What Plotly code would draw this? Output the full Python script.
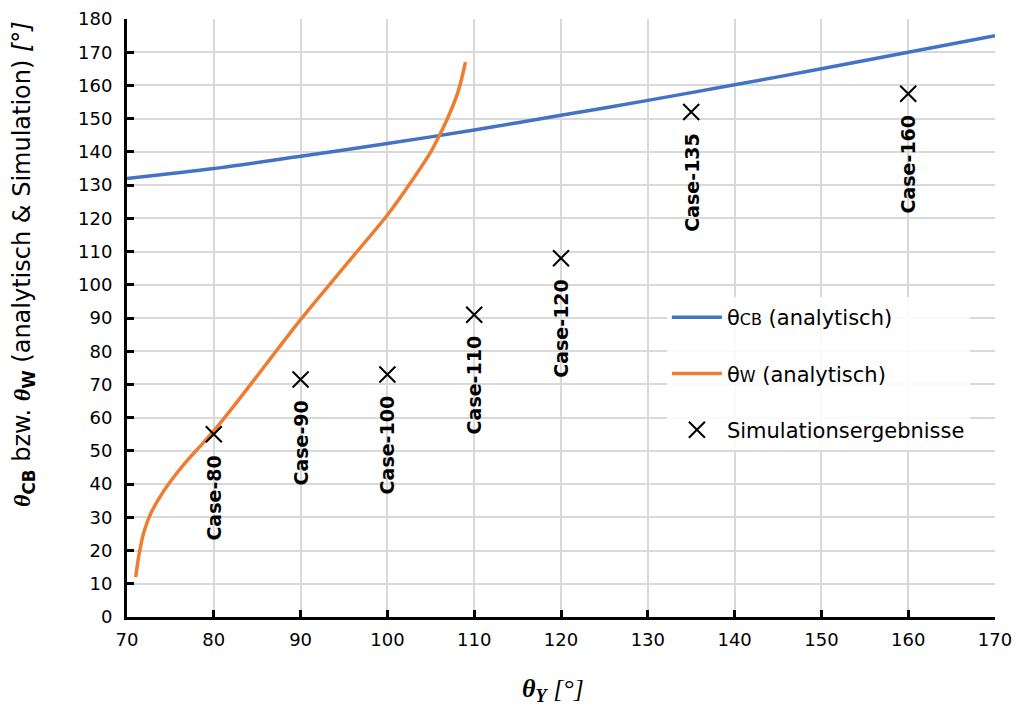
import plotly.graph_objects as go

# Blue analytic curve theta_CB
cb_x = [70, 80, 90, 100, 110, 120, 130, 140, 150, 160, 170]
cb_y = [132, 135, 138.7, 142.5, 146.6, 151, 155.5, 160.2, 165, 170, 175]

# Orange analytic curve theta_W
w_x = [71, 71.4, 72, 72.8, 74, 75.5, 77, 78.5, 80, 83, 86, 90, 95, 100, 103, 105, 106, 107, 108, 108.5, 109]
w_y = [12, 19, 26, 31.5, 37, 42.5, 47.3, 51.6, 56, 65.8, 76, 89.5, 105.3, 121, 132, 140, 145, 150.5, 157, 161.5, 167]

# Simulation results
sim_x = [80, 90, 100, 110, 120, 135, 160]
sim_y = [55, 71.5, 73, 91, 108, 152, 157.5]
sim_labels = ["Case-80", "Case-90", "Case-100", "Case-110", "Case-120", "Case-135", "Case-160"]

FONT = "DejaVu Sans, Arial, sans-serif"
SERIF = "Liberation Serif, DejaVu Serif, serif"

fig = go.Figure()
fig.add_trace(go.Scatter(
    x=cb_x, y=cb_y, mode="lines", line=dict(color="#4472C4", width=3.5, shape="spline", smoothing=0.8),
    name="θ<span style='font-size:16px'>CB</span> (analytisch)", legendgroup="a"))
fig.add_trace(go.Scatter(
    x=w_x, y=w_y, mode="lines", line=dict(color="#ED7D31", width=3.5, shape="spline", smoothing=0.7),
    name="θ<span style='font-size:16px'>W</span> (analytisch)", legendgroup="b"))
fig.add_trace(go.Scatter(
    x=sim_x, y=sim_y, mode="markers",
    marker=dict(symbol="x-thin-open", size=16, color="black", line=dict(color="black", width=2)),
    name="Simulationsergebnisse", legendgroup="c"))

for xv, yv, t in zip(sim_x, sim_y, sim_labels):
    fig.add_annotation(x=xv, y=yv, text="<b>" + t + "</b>", textangle=-90, showarrow=False,
                       xanchor="center", yanchor="top", yshift=-19,
                       font=dict(family=FONT, size=19, color="black"))

# y-axis title (placed as rotated annotation like the reference)
fig.add_annotation(
    xref="paper", yref="paper", x=-0.12, y=0.59, xanchor="center", yanchor="middle",
    textangle=-90, showarrow=False,
    text="<span style='font-family:" + SERIF + "'><b><i>θ</i></b></span><b><sub>CB</sub></b> bzw. "
         "<span style='font-family:" + SERIF + "'><b><i>θ</i></b></span><b><sub>W</sub></b> "
         "(analytisch &amp; Simulation) <i>[°]</i>",
    font=dict(family=FONT, size=24, color="black"))

# x-axis title
fig.add_annotation(
    xref="paper", yref="paper", x=0.491, y=-0.122, xanchor="center", yanchor="middle",
    showarrow=False,
    text="<span style='font-family:" + SERIF + "'><b><i>θ<sub>Y</sub></i></b> <i>[°]</i></span>",
    font=dict(family=FONT, size=26, color="black"))

axis_common = dict(showline=True, linecolor="black", linewidth=3, mirror=False,
                   ticks="inside", ticklen=7, tickwidth=3, tickcolor="black",
                   showgrid=True, gridcolor="#d9d9d9", gridwidth=2, zeroline=False,
                   ticklabeloverflow="allow",
                   tickfont=dict(family=FONT, size=18, color="black"))

fig.update_layout(
    width=1017, height=709,
    margin=dict(l=127, r=22, t=19, b=92, autoexpand=False),
    paper_bgcolor="white", plot_bgcolor="white",
    font=dict(family=FONT, size=18, color="black"),
    xaxis=dict(range=[70, 170], dtick=10, **axis_common, ticklabelstandoff=4),
    yaxis=dict(range=[0, 180], dtick=10, **axis_common, ticklabelstandoff=8),
    legend=dict(x=0.622, y=0.535, xanchor="left", yanchor="top",
                bgcolor="rgba(255,255,255,0.85)", font=dict(family=FONT, size=21, color="black"),
                tracegroupgap=26, itemwidth=50),
    showlegend=True,
)

fig.write_html("out.html")
